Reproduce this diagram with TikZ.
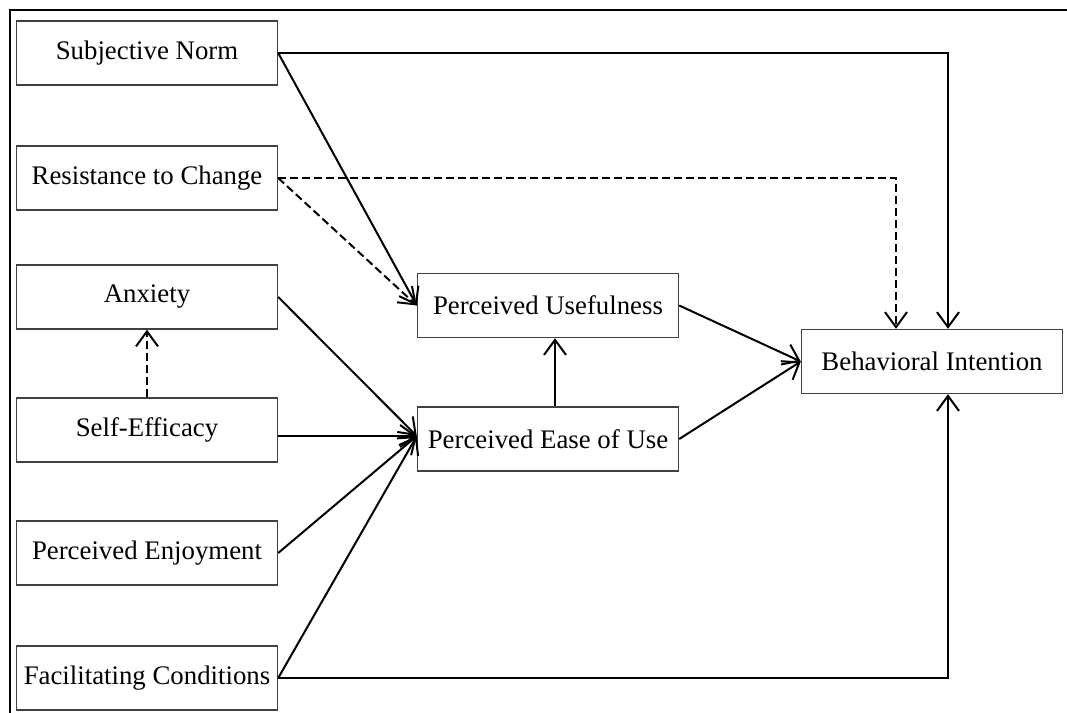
\documentclass[tikz,border=0pt]{standalone}
\usepackage{fontspec}
\setmainfont{Liberation Serif}
\usetikzlibrary{arrows.meta}
\begin{document}
\begin{tikzpicture}[x=0.5pt, y=-0.5pt,
        every node/.style = {shape=rectangle, draw=black!75, line width=0.7pt,
            minimum width=130.5pt, minimum height=32pt, inner sep=0pt,
            align=center, font=\fontsize{13.4}{16}\selectfont},
        link/.style = {line width=1pt, -{Straight Barb[length=7.5pt,width=11pt,line width=1pt]}},
        weak/.style = {link, dash pattern=on 4pt off 2pt}]
    \useasboundingbox (0,0) rectangle (1067,713);
    \draw[line width=1pt] (10,713) -- (10,10) -- (1067,10);
    % antecedents
    \node (sn) at (147,53)  {Subjective Norm};
    \node (rc) at (147,178) {Resistance to Change};
    \node (ax) at (147,297) {Anxiety};
    \node (se) at (147,430) {Self-Efficacy};
    \node (pe) at (147,553) {Perceived Enjoyment};
    \node (fc) at (147,678) {Facilitating Conditions};
    % TAM core
    \node (pu)  at (548,305.5) {Perceived Usefulness};
    \node (peu) at (548,439)   {Perceived Ease of Use};
    \node (bi)  at (932,361.5) {Behavioral Intention};
    \coordinate (peuin) at ([yshift=1.5pt]peu.west);
    % paths
    \draw[link] (sn.east) -| ([xshift=8pt]bi.north);
    \draw[link] (sn.east) -- (pu.west);
    \draw[weak] (rc.east) -| ([xshift=-18pt]bi.north);
    \draw[weak] (rc.east) -- (pu.west);
    \draw[weak] (se.north) -- (ax.south);
    \draw[link] (ax.east) -- (peuin);
    \draw[link] ([yshift=-3pt]se.east) -- (peuin);
    \draw[link] (pe.east) -- (peuin);
    \draw[link] (fc.east) -- (peuin);
    \draw[link] (fc.east) -| ([xshift=8pt]bi.south);
    \draw[link] ([xshift=3.5pt]peu.north) -- ([xshift=3.5pt]pu.south);
    \draw[link] (pu.east) -- (bi.west);
    \draw[link] (peu.east) -- (bi.west);
\end{tikzpicture}
\end{document}
